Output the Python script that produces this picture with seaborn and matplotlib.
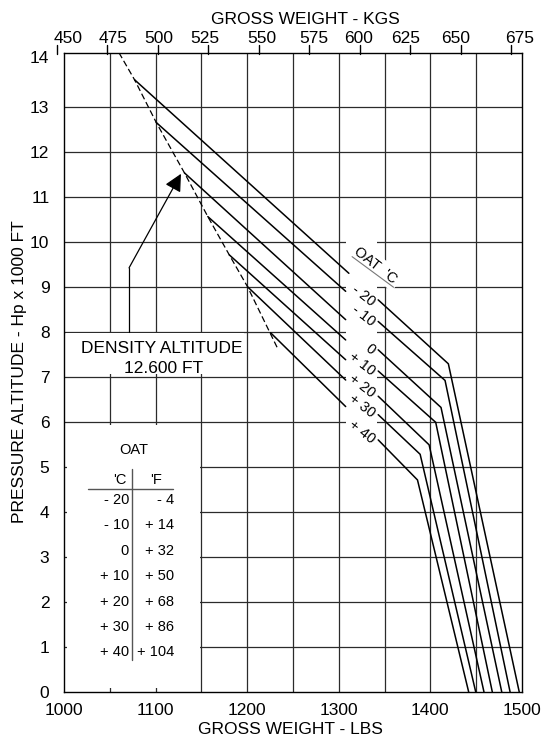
import numpy as np
import pandas as pd
import matplotlib
matplotlib.use("Agg")
import matplotlib.pyplot as plt
import seaborn as sns
from matplotlib.patches import Rectangle

# ---------------- data ----------------
oat_c = [-20, -10, 0, 10, 20, 30, 40]
oat_labels = ["- 20", "- 10", "0", "+ 10", "+ 20", "+ 30", "+ 40"]

start_lbs = [1077.0, 1100.7, 1131.5, 1157.0, 1180.4, 1200.4, 1225.5]
start_alt = [13.60, 12.65, 11.53, 10.56, 9.71, 9.00, 7.98]
left_end_lbs = [1311.0, 1307.5, 1307.5, 1307.5, 1307.5, 1307.5, 1307.5]
left_end_alt = [9.30, 8.90, 8.27, 7.82, 7.38, 6.93, 6.34]
right_start_lbs = [1343.0, 1343.0, 1343.0, 1343.0, 1343.0, 1343.0, 1343.0]
right_start_alt = [8.71, 8.23, 7.60, 7.13, 6.57, 6.16, 5.60]
kink_lbs = [1419.6, 1416.0, 1411.6, 1405.8, 1398.6, 1388.8, 1385.9]
kink_alt = [7.29, 6.92, 6.32, 5.99, 5.49, 5.28, 4.71]
end_lbs = [1497.0, 1487.0, 1477.9, 1467.6, 1458.5, 1449.5, 1441.8]
end_alt = [0, 0, 0, 0, 0, 0, 0]

density_lbs = [1060.0, 1077.0, 1100.7, 1131.5, 1157.0, 1180.4, 1200.4, 1233.0]
density_alt = [14.20, 13.60, 12.65, 11.53, 10.56, 9.71, 9.00, 7.64]

lbs_ticks = [1000, 1100, 1200, 1300, 1400, 1500]
alt_ticks = list(range(0, 14))
kg_ticks = [450, 475, 500, 525, 550, 575, 600, 625, 650, 675]
KG_TO_LBS = 2.20462

table_c = ["- 20", "- 10", "0", "+ 10", "+ 20", "+ 30", "+ 40"]
table_f = ["- 4", "+ 14", "+ 32", "+ 50", "+ 68", "+ 86", "+ 104"]

# ---------------- style ----------------
sns.set_theme(style="white")
plt.rcParams["font.family"] = ["Liberation Sans", "DejaVu Sans"]
for k in ["text.color", "axes.labelcolor", "xtick.color", "ytick.color", "axes.edgecolor"]:
    plt.rcParams[k] = "black"

W, H = 545, 738
fig = plt.figure(figsize=(W / 100, H / 100), dpi=100)
ax = fig.add_axes([64 / W, 46 / H, 458 / W, (692 - 52.7) / H])
YTOP = 14.2
ax.set_xlim(1000, 1500)
ax.set_ylim(0, YTOP)

GRID_C = "#2b2b2b"
# grid
ax.vlines(np.arange(1050, 1500, 50), 0, YTOP, color=GRID_C, lw=0.9, zorder=0.5)
ax.hlines(np.arange(1, 14), 1000, 1500, color=GRID_C, lw=0.9, zorder=0.5)

# white boxes blanking the grid
ax.add_patch(Rectangle((1003.5, 0.08), 1148 - 1003.5, 5.93 - 0.08, fc="white", ec="none", zorder=1))
ax.add_patch(Rectangle((1002, 7.06), 1196 - 1002, 7.97 - 7.06, fc="white", ec="none", zorder=1))
ax.add_patch(Rectangle((1308, 5.5), 1342 - 1308, 10.1 - 5.5, fc="white", ec="none", zorder=1))

# OAT lines
rows = []
for i, t in enumerate(oat_c):
    rows.append(dict(seg=f"{t}L", lbs=start_lbs[i], alt=start_alt[i]))
    rows.append(dict(seg=f"{t}L", lbs=left_end_lbs[i], alt=left_end_alt[i]))
    rows.append(dict(seg=f"{t}R", lbs=right_start_lbs[i], alt=right_start_alt[i]))
    rows.append(dict(seg=f"{t}R", lbs=kink_lbs[i], alt=kink_alt[i]))
    rows.append(dict(seg=f"{t}R", lbs=end_lbs[i], alt=end_alt[i]))
df = pd.DataFrame(rows)
sns.lineplot(data=df, x="lbs", y="alt", units="seg", estimator=None, sort=False,
             color="black", lw=1.1, ax=ax, zorder=3, legend=False)

# density altitude dashed line
dens = pd.DataFrame({"lbs": density_lbs, "alt": density_alt})
sns.lineplot(data=dens, x="lbs", y="alt", sort=False, estimator=None, color="black",
             lw=0.9, linestyle=(0, (5, 2.5)), ax=ax, zorder=3)

# OAT labels in the gap
for i, lab in enumerate(oat_labels):
    my = (left_end_alt[i] + right_start_alt[i]) / 2 - 0.38
    ax.text(1338, my, lab, rotation=-38, rotation_mode="anchor", ha="right", va="center",
            fontsize=10.5, zorder=4)
ax.text(1340, 9.47, "OAT  'C", rotation=-38, rotation_mode="anchor", ha="center", va="center",
        fontsize=10.5, zorder=4,
        bbox=dict(facecolor="white", edgecolor="none", pad=2.5))
ax.plot([1314.5, 1359.8], [9.67, 8.99], color="#777777", lw=0.8, zorder=5)

# density altitude annotation
ax.text(1106.5, 7.64, "DENSITY ALTITUDE", ha="center", va="center", fontsize=12.5, zorder=4)
ax.text(1108.7, 7.19, "12.600 FT", ha="center", va="center", fontsize=12.5, zorder=4)
ax.plot([1071, 1071], [8.0, 9.42], color="black", lw=0.9, zorder=3)
ax.annotate("", xy=(1127.7, 11.51), xytext=(1071, 9.42),
            arrowprops=dict(arrowstyle="-|>,head_length=0.7,head_width=0.35", mutation_scale=15,
                            color="black", lw=0.9, shrinkA=0, shrinkB=0), zorder=4)

# OAT conversion table
ax.text(1076, 5.38, "OAT", ha="center", va="center", fontsize=10.5, zorder=4)
ax.text(1061, 4.70, "'C", ha="center", va="center", fontsize=10.5, zorder=4)
ax.text(1101, 4.70, "'F", ha="center", va="center", fontsize=10.5, zorder=4)
ax.plot([1026.4, 1118.8], [4.5, 4.5], color="#555555", lw=1.0, zorder=4)
ax.plot([1074.6, 1074.6], [0.71, 4.95], color="#555555", lw=1.0, zorder=4)
row_alt = np.linspace(4.27, 0.88, len(table_c))
for c, f, ya in zip(table_c, table_f, row_alt):
    ax.text(1071, ya, c, ha="right", va="center", fontsize=10.5, zorder=4)
    ax.text(1120, ya, f, ha="right", va="center", fontsize=10.5, zorder=4)

# spines
for s in ax.spines.values():
    s.set_visible(True)
    s.set_color("black")
    s.set_linewidth(1.0)
    s.set_zorder(6)

# bottom / left ticks
ax.set_xticks(lbs_ticks)
ax.set_xticklabels([str(v) for v in lbs_ticks])
ax.set_yticks(alt_ticks + [14.1])
ax.set_yticklabels([str(v) for v in alt_ticks] + ["14"])
ax.tick_params(axis="x", which="major", length=0, pad=8, labelsize=12.5)
ax.tick_params(axis="y", which="major", length=0, pad=10.5, labelsize=12.5)
ax.set_xticks([1000], minor=True)
ax.set_yticks([0.12], minor=True)
ax.tick_params(axis="x", which="minor", length=5, width=1, direction="out", color="black")
ax.tick_params(axis="y", which="minor", length=7.7, width=1, direction="out", color="black")
ax.set_xlabel("")
ax.set_ylabel("")

# top KGS axis (ticks at exact conversions)
kg_label_offset = [12, 6.7, 0.7, -3.7, 3.5, 5.3, -0.8, -5.2, -5.8, 9.6]
for kg, off in zip(kg_ticks, kg_label_offset):
    x = kg * KG_TO_LBS
    ax.plot([x, x], [YTOP - 0.03, YTOP + 0.17], color="black", lw=1.0, clip_on=False, zorder=6)
    ax.text(x + off, 14.52, str(kg), ha="center", va="center", fontsize=12.5, clip_on=False)

fig.text(305.8 / W, 1 - 19 / H, "GROSS WEIGHT - KGS", ha="center", va="center", fontsize=12.5)
fig.text(290 / W, 1 - 729 / H, "GROSS WEIGHT - LBS", ha="center", va="center", fontsize=12.5)
fig.text(20 / W, 1 - 372 / H, "PRESSURE ALTITUDE - Hp x 1000 FT", rotation=90,
         ha="center", va="center", fontsize=12.5)

fig.savefig("out.png", dpi=100, facecolor="white")
